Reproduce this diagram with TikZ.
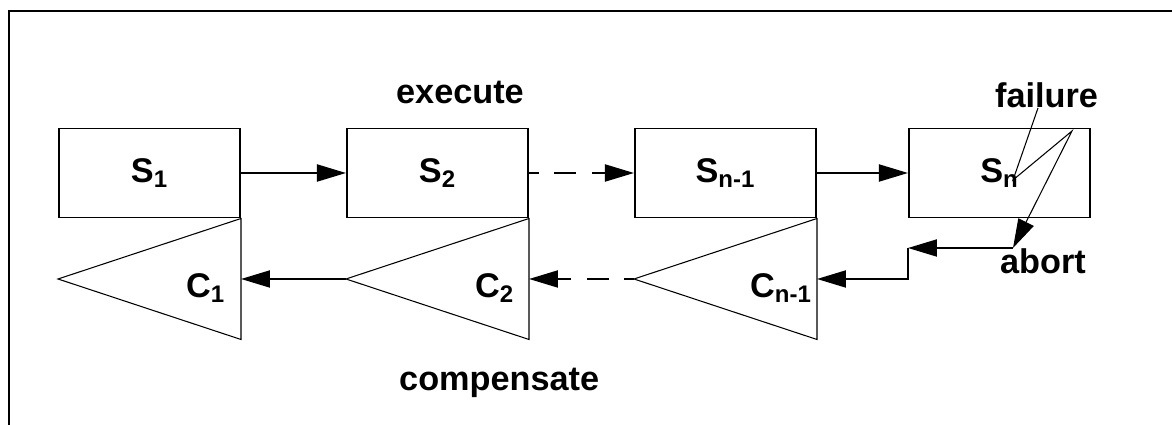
\documentclass[tikz,border=0pt]{standalone}
\usepackage{amsmath}
\usepackage{fontspec}
\setmainfont{Liberation Sans}
\usepackage{tikz}
\usetikzlibrary{positioning, arrows.meta, calc}

\begin{document}
\begin{tikzpicture}[node distance=2.1cm, font=\fontsize{19.5}{22}\selectfont\bfseries,
          >={Triangle[length=0.58cm, width=0.34cm]},
          task/.style={draw, line width=1.13pt, minimum width=3.62cm, minimum height=1.78cm, inner sep=0pt},
          comp/.style={line width=0.6pt},
          flow/.style={->, line width=1.13pt},
          dashflow/.style={flow, dash pattern=on 12.5pt off 9pt, dash phase=7pt}]
  \useasboundingbox (0,0) rectangle (23.44,-8.5);
  \draw[line width=1.13pt] (23.44,-0.22) -- (0.18,-0.22) -- (0.18,-8.5);
  % forward steps
  \node[task] (s1) at (2.99,-3.46) {S$_{\text{1}}$};
  \node[task] (s2) [right=of s1] {S$_{\text{2}}$};
  \node[task] (sn1) [right=of s2] {S$_{\text{n-1}}$};
  \node[task] (sn) [right=1.82cm of sn1] {S$_{\text{n}}$};
  % compensation wedges under each step
  \foreach \s/\cn/\sub/\dx in {s1/c1/1/1.22, s2/c2/2/1.20, sn1/cn1/n-1/1.46} {
    \draw[comp] (\s.south east) -- ++(0,-2.42) -- ($(\s.south west)+(0,-1.21)$) coordinate (\cn-tip) -- cycle;
    \coordinate (\cn-in) at ($(\s.south east)+(0,-1.21)$);
    \node[anchor=base west] (\cn) at ($(\cn-in)+(-\dx,-0.37)$) {C$_{\text{\sub}}$};
  }
  \node (exec) at (9.2,-2.08) [anchor=base] {execute};
  \node (undo) at (7.86,-7.82) [anchor=base west] {compensate};
  \node (fail) at (20.93,-2.16) [anchor=base] {failure};
  \node (abort) at (20.86,-5.48) [anchor=base] {abort};
  \path[flow] (s1) edge (s2) (sn1) edge (sn);
  \path[dashflow] (s2) edge (sn1);
  \path[flow] (c2-tip) edge (c1-in);
  \path[dashflow] (cn1-tip) edge (c2-in);
  % failure bolt and abort path
  \coordinate (bolt-a) at (20.26,-3.6);
  \coordinate (bolt-b) at (21.44,-2.62);
  \coordinate (hit) at (20.26,-4.96);
  \coordinate (turn) at (sn.west |- hit);
  \draw[comp, ->] ($(fail.base)+(-0.17,0)$) -- (bolt-a) -- (bolt-b) -- (hit);
  \draw[flow] (hit) -- (turn);
  \draw[flow] (turn) |- (cn1-in);
\end{tikzpicture}
\end{document}
